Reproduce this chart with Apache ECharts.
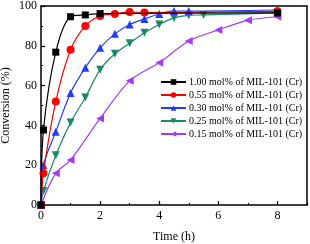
<!DOCTYPE html>
<html><head><meta charset="utf-8">
<script src="https://cdn.jsdelivr.net/npm/echarts@6/dist/echarts.min.js"></script>
<style>html,body{margin:0;padding:0;background:#fff}#c{width:310px;height:244px}</style>
</head><body><div id="c"></div>
<script>
var names = ['1.00 mol% of MIL-101 (Cr)','0.55 mol% of MIL-101 (Cr)','0.30 mol% of MIL-101 (Cr)','0.25 mol% of MIL-101 (Cr)','0.15 mol% of MIL-101 (Cr)'];
var t100 = [0, 0.083, 0.5, 1, 1.5, 2, 8];
var v100 = [0, 37.7, 76.8, 94.6, 95.5, 96.2, 96.5];
var t055 = [0, 0.083, 0.5, 1, 1.5, 2, 2.5, 3, 3.5, 8];
var v055 = [0, 16, 52, 78, 90, 95, 96, 97, 96.7, 97.3];
var t030 = [0, 0.083, 0.5, 1, 1.5, 2, 2.5, 3, 3.5, 4, 4.5, 5, 8];
var v030 = [0, 20, 36.8, 56.3, 69, 79, 86, 90.7, 93.5, 96, 97.5, 97.5, 98];
var t025 = [0, 0.083, 0.5, 1, 1.5, 2, 2.5, 3, 3.5, 4, 4.5, 5, 5.5, 8];
var v025 = [0, 7, 25, 41.4, 54, 68, 76, 81.3, 86.5, 90.7, 94, 95.3, 95.5, 96.5];
var t015 = [0, 0.5, 1, 2, 3, 4, 5, 6, 7, 8];
var v015 = [0, 16, 22.6, 43.5, 62.4, 71.5, 82.4, 88, 92.8, 94.6];
var xTicks = [0, 2, 4, 6, 8];
var yTicks = [0, 20, 40, 60, 80, 100];

function pairs(t, v){ return t.map(function(x,i){ return [x, v[i]]; }); }
var F = "'Liberation Serif','Times New Roman',serif";
var colors = ['#000000','#ff0000','#1f3cff','#1b8a6a','#a33cf2'];
var symbols = ['rect','circle','triangle','triangle','triangle'];
var rot = [0,0,0,180,90];
var sizes = [7,8,8,8,8];
var sets = [[t100,v100],[t055,v055],[t030,v030],[t025,v025],[t015,v015]];

var series = sets.map(function(s,i){
  return {
    name: names[i], type:'line', xAxisIndex:0, yAxisIndex:0,
    data: pairs(s[0], s[1]), smooth: 0.3,
    symbol: symbols[i], symbolRotate: rot[i], symbolSize: sizes[i],
    showAllSymbol: true,
    itemStyle:{color:colors[i]}, lineStyle:{color:colors[i], width:1.2},
    emphasis:{disabled:true}, animation:false, z: 10-i
  };
});

var chart = echarts.init(document.getElementById('c'), null, {renderer:'canvas'});
chart.setOption({
  animation:false,
  grid:{left:41, top:6, right:3, bottom:39, containLabel:false, outerBoundsMode:'none'},
  legend:{
    data:names, orient:'vertical', left:160, top:77, padding:0,
    itemWidth:25, itemHeight:7, itemGap:3,
    textStyle:{fontFamily:F, fontSize:10, color:'#000', padding:[0,0,0,-2]},
    selectedMode:false
  },
  xAxis:[
    {type:'value', min:0, max:9, interval:2, position:'bottom',
     name:'Time (h)', nameLocation:'middle', nameGap:26, nameMoveOverlap:false,
     nameTextStyle:{fontFamily:F, fontSize:12, color:'#000'},
     axisLine:{onZero:false, lineStyle:{color:'#000', width:1.5}},
     axisTick:{inside:true, length:4, lineStyle:{color:'#000', width:1.2}},
     axisLabel:{fontFamily:F, fontSize:12, color:'#000', margin:5, showMaxLabel:false,
       formatter:function(v){ return xTicks.indexOf(v)>=0 ? String(v) : ''; }},
     splitLine:{show:false}},
    {type:'value', min:0, max:9, interval:1, position:'bottom',
     axisLine:{show:false}, axisTick:{inside:true, length:2, lineStyle:{color:'#000', width:1.2}},
     axisLabel:{show:false}, splitLine:{show:false}},
    {type:'value', min:0, max:9, interval:2, position:'top',
     axisLine:{show:true, onZero:false, lineStyle:{color:'#000', width:1.5}},
     axisTick:{show:false}, axisLabel:{show:false}, splitLine:{show:false}}
  ],
  yAxis:[
    {type:'value', min:0, max:100, interval:20, position:'left',
     name:'Conversion (%)', nameLocation:'middle', nameGap:29, nameRotate:90, nameMoveOverlap:false,
     nameTextStyle:{fontFamily:F, fontSize:12, color:'#000'},
     axisLine:{show:true, onZero:false, lineStyle:{color:'#000', width:1.5}},
     axisTick:{inside:true, length:4, lineStyle:{color:'#000', width:1.2}},
     minorTick:{show:true, splitNumber:2, length:2, lineStyle:{color:'#000', width:1.2}},
     axisLabel:{fontFamily:F, fontSize:12, color:'#000', margin:4,
       formatter:function(v){ return yTicks.indexOf(v)>=0 ? String(v) : ''; }},
     splitLine:{show:false}, minorSplitLine:{show:false}},
    {type:'value', min:0, max:100, interval:20, position:'right',
     axisLine:{show:true, onZero:false, lineStyle:{color:'#000', width:1.5}},
     axisTick:{show:false}, axisLabel:{show:false}, splitLine:{show:false}}
  ],
  series: series
});
</script></body></html>
